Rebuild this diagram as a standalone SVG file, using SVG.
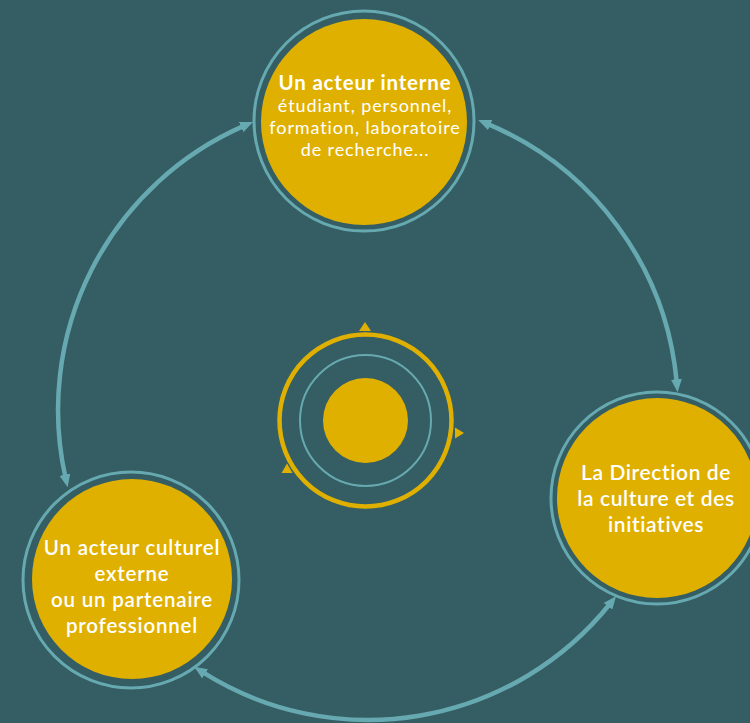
<svg xmlns="http://www.w3.org/2000/svg" width="750" height="723" viewBox="0 0 750 723">
<defs>
<style>
.bg{fill:#345E63}
.ring{fill:none;stroke:#67A9B0;stroke-width:3}
.disk{fill:#E0B000}
.conn{fill:none;stroke:#67A9B0;stroke-width:4.5}
.t{font-family:Lato,"Open Sans","Liberation Sans",sans-serif;fill:#FFFFFF;text-anchor:middle}
.b{font-weight:bold}
.m{font-weight:600}
.tri{fill:#E0B000}
</style>
<marker id="ah" viewBox="0 0 13 11" refX="3" refY="5.5" markerWidth="13" markerHeight="11" markerUnits="userSpaceOnUse" orient="auto-start-reverse">
<path d="M0,0 L13,5.5 L0,11 z" fill="#67A9B0"/>
</marker>
</defs>
<rect class="bg" x="0" y="0" width="750" height="723"/>
<g id="connectors">
<path class="conn" d="M65.5,477.6 A310,310 0 0 1 243.9,125.9" marker-start="url(#ah)" marker-end="url(#ah)"/>
<path class="conn" d="M487.4,123.9 A310,310 0 0 1 676.7,382.2" marker-start="url(#ah)" marker-end="url(#ah)"/>
<path class="conn" d="M609.8,604.0 A310,310 0 0 1 202.6,672.2" marker-start="url(#ah)" marker-end="url(#ah)"/>
</g>
<g id="center">
<circle cx="365.5" cy="420.5" r="86" fill="none" stroke="#E0B000" stroke-width="4.5"/>
<circle cx="365.5" cy="420.5" r="65.5" fill="none" stroke="#67A9B0" stroke-width="2"/>
<circle class="disk" cx="365.5" cy="420.5" r="42.5"/>
<polygon class="tri" points="359,331 365,322 371,331"/>
<polygon class="tri" points="455,427.5 464,433 455,438.5"/>
<polygon class="tri" points="281.5,473 287,463.5 292.5,473"/>
</g>
<g id="node-interne">
<circle class="ring" cx="364" cy="121" r="110"/>
<circle class="disk" cx="364" cy="122" r="103"/>
<text class="t b" x="365" y="90" font-size="20.5" letter-spacing="0.8">Un acteur interne</text>
<text class="t" x="365" y="112" font-size="18" letter-spacing="0.9">étudiant, personnel,</text>
<text class="t" x="365" y="134" font-size="18" letter-spacing="0.9">formation, laboratoire</text>
<text class="t" x="365" y="156" font-size="18" letter-spacing="0.9">de recherche...</text>
</g>
<g id="node-direction">
<circle class="ring" cx="657" cy="498" r="106"/>
<circle class="disk" cx="657" cy="498" r="100"/>
<text class="t m" x="656" y="480" font-size="21" letter-spacing="0.6">La Direction de</text>
<text class="t m" x="656" y="506" font-size="21" letter-spacing="0.6">la culture et des</text>
<text class="t m" x="656" y="532" font-size="21" letter-spacing="0.6">initiatives</text>
</g>
<g id="node-externe">
<circle class="ring" cx="131" cy="580" r="108"/>
<circle class="disk" cx="132" cy="579" r="100"/>
<text class="t m" x="132" y="555" font-size="20.5" letter-spacing="0.8">Un acteur culturel</text>
<text class="t m" x="132" y="581" font-size="20.5" letter-spacing="0.8">externe</text>
<text class="t m" x="132" y="607" font-size="20.5" letter-spacing="0.8">ou un partenaire</text>
<text class="t m" x="132" y="633" font-size="20.5" letter-spacing="0.8">professionnel</text>
</g>
</svg>
